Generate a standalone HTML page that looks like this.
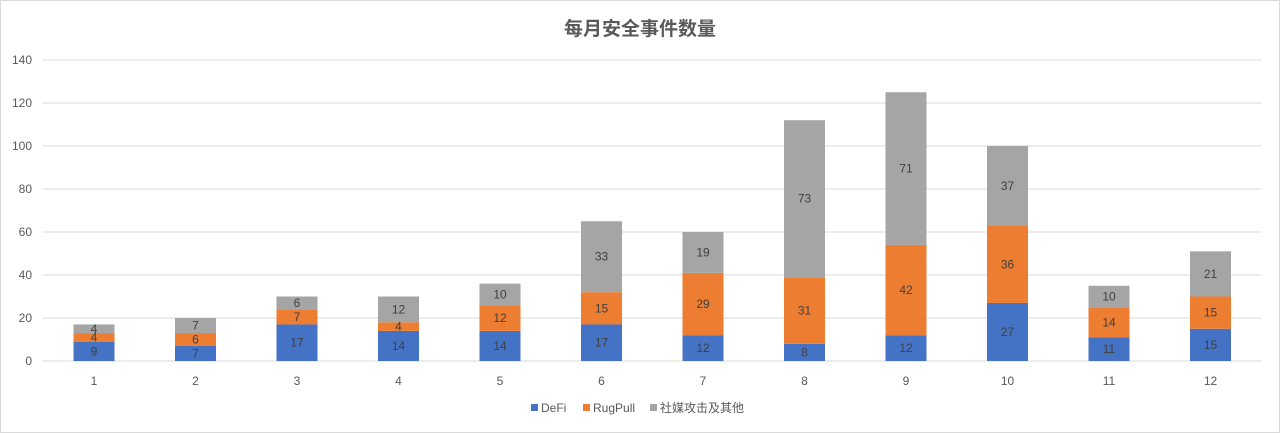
<!DOCTYPE html>
<html><head><meta charset="utf-8"><style>
body{margin:0;background:#fff}
svg{display:block;font-family:"Liberation Sans","Noto Sans CJK SC",sans-serif}
</style></head><body>
<svg width="1280" height="433" xmlns="http://www.w3.org/2000/svg">
<rect x="0.5" y="0.5" width="1279" height="432" fill="#fff" stroke="#d9d9d9"/>
<text x="640" y="35" text-anchor="middle" font-size="19" font-weight="bold" fill="#595959">每月安全事件数量</text>
<g stroke="#d9d9d9">
<line x1="43" x2="1261" y1="361" y2="361"/><line x1="43" x2="1261" y1="318" y2="318"/>
<line x1="43" x2="1261" y1="275" y2="275"/><line x1="43" x2="1261" y1="232" y2="232"/>
<line x1="43" x2="1261" y1="189" y2="189"/><line x1="43" x2="1261" y1="146" y2="146"/>
<line x1="43" x2="1261" y1="103" y2="103"/><line x1="43" x2="1261" y1="60" y2="60"/>
</g>
<g font-size="12" fill="#595959" text-anchor="end">
<text x="32" y="365">0</text><text x="32" y="322">20</text><text x="32" y="279">40</text><text x="32" y="236">60</text>
<text x="32" y="193">80</text><text x="32" y="150">100</text><text x="32" y="107">120</text><text x="32" y="64">140</text>
</g>
<g>
<rect x="73.5" y="341.65" width="41" height="19.35" fill="#4472C4"/><rect x="73.5" y="333.05" width="41" height="8.6" fill="#ED7D31"/><rect x="73.5" y="324.45" width="41" height="8.6" fill="#A5A5A5"/>
<rect x="175" y="345.95" width="41" height="15.05" fill="#4472C4"/><rect x="175" y="333.05" width="41" height="12.9" fill="#ED7D31"/><rect x="175" y="318" width="41" height="15.05" fill="#A5A5A5"/>
<rect x="276.5" y="324.45" width="41" height="36.55" fill="#4472C4"/><rect x="276.5" y="309.4" width="41" height="15.05" fill="#ED7D31"/><rect x="276.5" y="296.5" width="41" height="12.9" fill="#A5A5A5"/>
<rect x="378" y="330.9" width="41" height="30.1" fill="#4472C4"/><rect x="378" y="322.3" width="41" height="8.6" fill="#ED7D31"/><rect x="378" y="296.5" width="41" height="25.8" fill="#A5A5A5"/>
<rect x="479.5" y="330.9" width="41" height="30.1" fill="#4472C4"/><rect x="479.5" y="305.1" width="41" height="25.8" fill="#ED7D31"/><rect x="479.5" y="283.6" width="41" height="21.5" fill="#A5A5A5"/>
<rect x="581" y="324.45" width="41" height="36.55" fill="#4472C4"/><rect x="581" y="292.2" width="41" height="32.25" fill="#ED7D31"/><rect x="581" y="221.25" width="41" height="70.95" fill="#A5A5A5"/>
<rect x="682.5" y="335.2" width="41" height="25.8" fill="#4472C4"/><rect x="682.5" y="272.85" width="41" height="62.35" fill="#ED7D31"/><rect x="682.5" y="232" width="41" height="40.85" fill="#A5A5A5"/>
<rect x="784" y="343.8" width="41" height="17.2" fill="#4472C4"/><rect x="784" y="277.15" width="41" height="66.65" fill="#ED7D31"/><rect x="784" y="120.2" width="41" height="156.95" fill="#A5A5A5"/>
<rect x="885.5" y="335.2" width="41" height="25.8" fill="#4472C4"/><rect x="885.5" y="244.9" width="41" height="90.3" fill="#ED7D31"/><rect x="885.5" y="92.25" width="41" height="152.65" fill="#A5A5A5"/>
<rect x="987" y="302.95" width="41" height="58.05" fill="#4472C4"/><rect x="987" y="225.55" width="41" height="77.4" fill="#ED7D31"/><rect x="987" y="146" width="41" height="79.55" fill="#A5A5A5"/>
<rect x="1088.5" y="337.35" width="41" height="23.65" fill="#4472C4"/><rect x="1088.5" y="307.25" width="41" height="30.1" fill="#ED7D31"/><rect x="1088.5" y="285.75" width="41" height="21.5" fill="#A5A5A5"/>
<rect x="1190" y="328.75" width="41" height="32.25" fill="#4472C4"/><rect x="1190" y="296.5" width="41" height="32.25" fill="#ED7D31"/><rect x="1190" y="251.35" width="41" height="45.15" fill="#A5A5A5"/>
</g>
<g font-size="12" fill="#404040" text-anchor="middle">
<text x="94" y="355.3">9</text><text x="94" y="341.35">4</text><text x="94" y="332.75">4</text>
<text x="195.5" y="357.5">7</text><text x="195.5" y="343.5">6</text><text x="195.5" y="329.5">7</text>
<text x="297" y="346.7">17</text><text x="297" y="320.9">7</text><text x="297" y="307">6</text>
<text x="398.5" y="350">14</text><text x="398.5" y="330.6">4</text><text x="398.5" y="313.4">12</text>
<text x="500" y="350">14</text><text x="500" y="322">12</text><text x="500" y="298.4">10</text>
<text x="601.5" y="346.7">17</text><text x="601.5" y="312.3">15</text><text x="601.5" y="260.7">33</text>
<text x="703" y="352.1">12</text><text x="703" y="308">29</text><text x="703" y="256.4">19</text>
<text x="804.5" y="356.4">8</text><text x="804.5" y="314.5">31</text><text x="804.5" y="202.7">73</text>
<text x="906" y="352.1">12</text><text x="906" y="294">42</text><text x="906" y="172.6">71</text>
<text x="1007.5" y="336">27</text><text x="1007.5" y="268.25">36</text><text x="1007.5" y="189.8">37</text>
<text x="1109" y="353.2">11</text><text x="1109" y="326.3">14</text><text x="1109" y="300.5">10</text>
<text x="1210.5" y="348.9">15</text><text x="1210.5" y="316.6">15</text><text x="1210.5" y="277.9">21</text>
</g>
<g font-size="12" fill="#595959" text-anchor="middle">
<text x="94" y="385">1</text><text x="195.5" y="385">2</text><text x="297" y="385">3</text><text x="398.5" y="385">4</text>
<text x="500" y="385">5</text><text x="601.5" y="385">6</text><text x="703" y="385">7</text><text x="804.5" y="385">8</text>
<text x="906" y="385">9</text><text x="1007.5" y="385">10</text><text x="1109" y="385">11</text><text x="1210.5" y="385">12</text>
</g>
<g font-size="12" fill="#595959">
<rect x="531" y="404" width="7" height="7" fill="#4472C4"/><text x="541" y="412">DeFi</text>
<rect x="583" y="404" width="7" height="7" fill="#ED7D31"/><text x="593" y="412">RugPull</text>
<rect x="650" y="404" width="7" height="7" fill="#A5A5A5"/><text x="660" y="412">社媒攻击及其他</text>
</g>
</svg>
</body></html>
